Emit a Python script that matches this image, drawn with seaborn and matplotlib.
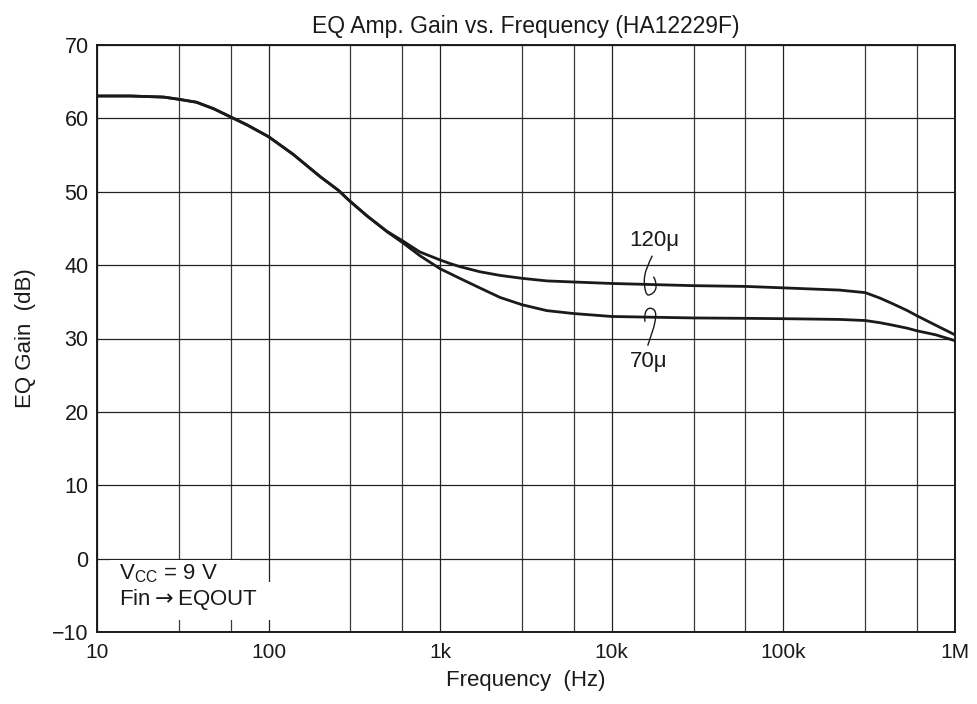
import numpy as np
import pandas as pd
import matplotlib
matplotlib.use("Agg")
import matplotlib.pyplot as plt
import matplotlib.ticker as mticker
import matplotlib.transforms as mtransforms
from matplotlib.path import Path
from matplotlib.patches import PathPatch, Rectangle
import seaborn as sns

# ---------------- data ----------------
freq = [10, 15.6, 24.5, 30, 38, 48, 60, 75, 100, 139, 200, 255, 295, 375, 490,
        605, 760, 1000, 1130, 1300, 1700, 2230, 3000, 4180, 6000, 10000, 30000,
        60000, 100000, 212000, 300000, 366000, 437000, 528000, 600000, 773000,
        1000000]
gain_120u = [63.05, 63.05, 62.9, 62.6, 62.2, 61.3, 60.2, 59.1, 57.5, 55.1,
             52.05, 50.2, 48.8, 46.7, 44.6, 43.3, 41.8, 40.7, 40.25, 39.8,
             39.1, 38.6, 38.2, 37.85, 37.7, 37.5, 37.2, 37.1, 36.9, 36.6, 36.25,
             35.5, 34.7, 33.8, 33.1, 31.8, 30.5]
gain_70u = [63.05, 63.05, 62.9, 62.6, 62.2, 61.3, 60.2, 59.1, 57.5, 55.1,
            52.05, 50.2, 48.8, 46.7, 44.55, 43.05, 41.3, 39.5, 38.9, 38.2,
            36.9, 35.6, 34.6, 33.8, 33.4, 33.0, 32.8, 32.75, 32.7, 32.6, 32.45,
            32.15, 31.8, 31.4, 31.05, 30.5, 29.7]
series_names = ["120μ", "70μ"]
x_major = [10, 100, 1000, 10000, 100000, 1000000]
x_major_labels = ["10", "100", "1k", "10k", "100k", "1M"]
x_minor = [30, 60, 300, 600, 3000, 6000, 30000, 60000, 300000, 600000]
y_ticks = [-10, 0, 10, 20, 30, 40, 50, 60, 70]
cond_lines = ["V$_{\\mathregular{CC}}$ = 9 V", "Fin$\\rightarrow$EQOUT"]

df = pd.DataFrame({
    "freq": freq * 2,
    "gain": gain_120u + gain_70u,
    "series": [series_names[0]] * len(freq) + [series_names[1]] * len(freq),
})

# ---------------- style ----------------
sns.set_style("white")
plt.rcParams["font.family"] = ["Liberation Sans", "DejaVu Sans"]
plt.rcParams["mathtext.fontset"] = "custom"
plt.rcParams["mathtext.rm"] = "Liberation Sans"
plt.rcParams["axes.unicode_minus"] = True

INK = "#1a1a1a"
fig = plt.figure(figsize=(9.78, 7.04), dpi=100)
ax = fig.add_axes([97 / 978, 72 / 704, 858 / 978, 587 / 704])

sns.lineplot(data=df, x="freq", y="gain", hue="series",
             palette=[INK, INK], linewidth=2.0, legend=False,
             ax=ax, zorder=3)

ax.set_xscale("log")
ax.set_xlim(10, 1e6)
ax.set_ylim(-10, 70)
ax.xaxis.set_major_locator(mticker.FixedLocator(x_major))
ax.xaxis.set_major_formatter(mticker.FixedFormatter(x_major_labels))
ax.xaxis.set_minor_locator(mticker.FixedLocator(x_minor))
ax.xaxis.set_minor_formatter(mticker.NullFormatter())
ax.set_yticks(y_ticks)

ax.grid(True, which="major", axis="x", color="#222222", linewidth=0.9)
ax.grid(True, which="minor", axis="x", color="#3a3a3a", linewidth=0.9)
ax.grid(True, which="major", axis="y", color="#222222", linewidth=0.9)
ax.set_axisbelow(True)
for s in ax.spines.values():
    s.set_color(INK)
    s.set_linewidth(1.4)

ax.tick_params(axis="both", which="both", length=0, colors=INK)
ax.tick_params(axis="y", labelsize=15.5, pad=6)
ax.tick_params(axis="x", labelsize=15, pad=8)

ax.set_xlabel("Frequency  (Hz)", fontsize=16, labelpad=6, color=INK)
ax.set_ylabel("EQ Gain  (dB)", fontsize=16, labelpad=12, color=INK)
ax.set_title("EQ Amp. Gain vs. Frequency (HA12229F)", fontsize=16.5, pad=9,
             color=INK)

# white backing boxes behind the condition text (decoration)
ax.add_patch(Rectangle((11.9, -3.3), 68 - 11.9, 3.1, facecolor="white",
                       edgecolor="none", zorder=2.5))
ax.add_patch(Rectangle((11.9, -8.4), 106 - 11.9, 5.2, facecolor="white",
                       edgecolor="none", zorder=2.5))
cond_pos = [(13.5, -2.0), (13.5, -5.6)]
for (cx, cy), s in zip(cond_pos, cond_lines):
    ax.text(cx, cy, s, fontsize=16, math_fontfamily="dejavusans",
            va="center", ha="left", color=INK, zorder=6)

# series labels
ax.text(17600, 43.4, series_names[0], fontsize=16, ha="center", va="center",
        color=INK, zorder=4)
ax.text(16300, 26.8, series_names[1], fontsize=16, ha="center", va="center",
        color=INK, zorder=4)

# small curly leader marks (decoration) in reference-pixel space
pix2ax = mtransforms.Affine2D().translate(-97, -632).scale(1 / 858, -1 / 587) + ax.transAxes
C4 = Path.CURVE4
sq1 = [(652.3, 255.7), (649, 263), (644, 272), (644.3, 281.7),
       (644.5, 289), (646, 295), (648.3, 295),
       (651, 295), (656, 292), (656, 286.7),
       (656, 281), (654.5, 278), (653.3, 276.7)]
sq2 = [(645, 321.7), (644, 314), (646, 308.3), (650, 308.3),
       (654, 308.3), (655.7, 311), (655.7, 315),
       (655.7, 325), (650, 338), (647.7, 345.7)]
for verts in (sq1, sq2):
    codes = [Path.MOVETO] + [C4] * (len(verts) - 1)
    ax.add_patch(PathPatch(Path(verts, codes), facecolor="none",
                           edgecolor=INK, linewidth=1.0,
                           transform=pix2ax, zorder=5, clip_on=False))

fig.savefig("out.png", dpi=100, facecolor="white")
